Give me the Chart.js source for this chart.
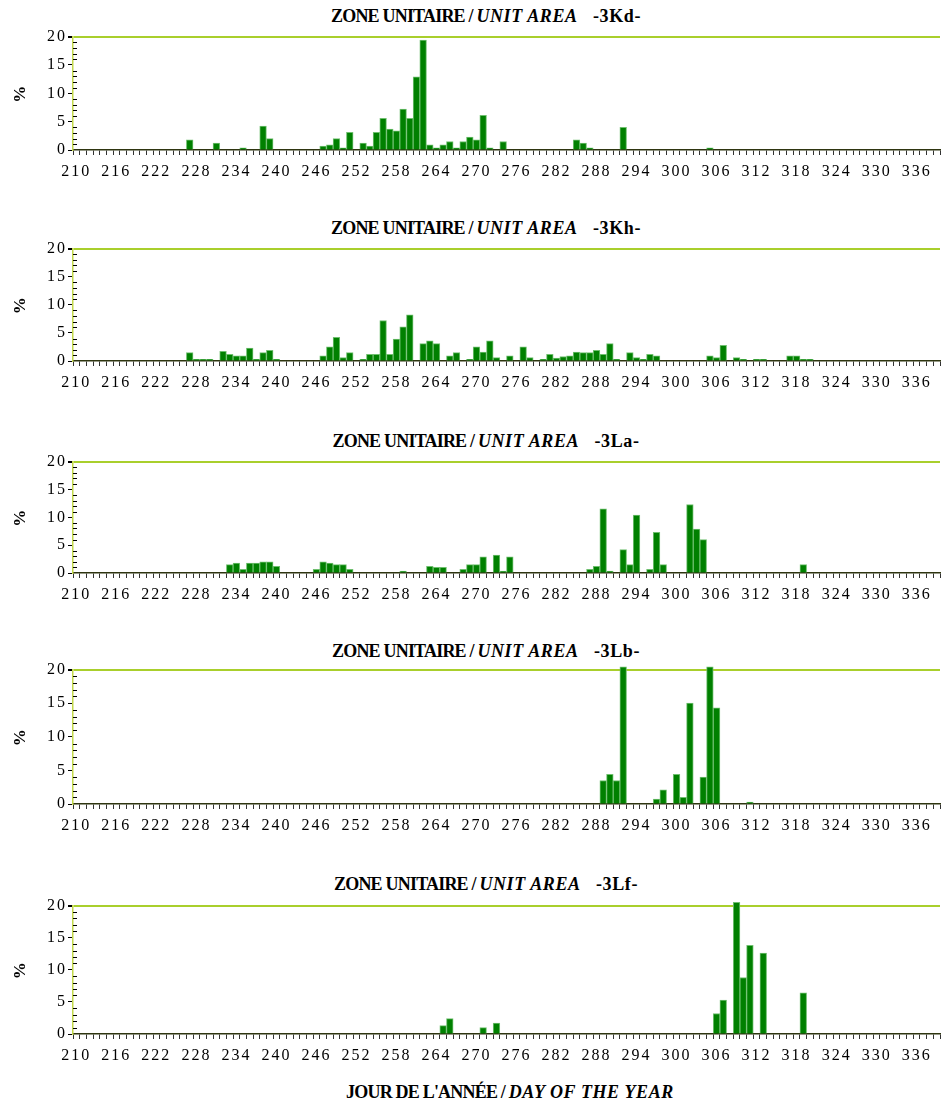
<!DOCTYPE html>
<html>
<head>
<meta charset="utf-8">
<script src="https://cdn.jsdelivr.net/npm/chart.js@4.4.0/dist/chart.umd.min.js"></script>
<style>
  body { margin: 0; background: #fff; }
  #page { position: relative; width: 944px; height: 1103px; font-family: 'Liberation Serif', serif; }
  canvas { position: absolute; left: 0; }
  .ttl { position: absolute; left: 486px; transform: translateX(-50%); white-space: nowrap;
         font-family: 'Liberation Serif', serif; font-weight: bold; font-size: 18px; line-height: 20px; color: #000; }
  .ttl .a { letter-spacing: -0.8px; }
  .ttl i { letter-spacing: 0.6px; }
  .ttl .c { letter-spacing: 0.6px; }
</style>
</head>
<body>
<div id="page"></div>
<script>
// day of the year, one category per day
const days = Array.from({ length: 130 }, (_, i) => 210 + i);
const dayLabels = days.map(String);
const yTicks = [0, 5, 10, 15, 20];

// non-zero days and their % for each unit area
const kdDays = [227, 231, 235, 238, 239, 247, 248, 249, 250, 251, 253, 254, 255, 256, 257, 258, 259, 260, 261, 262,
                263, 264, 265, 266, 267, 268, 269, 270, 271, 272, 274, 285, 286, 287, 292, 305];
const kdValues = [1.8, 1.2, 0.4, 4.2, 2.0, 0.7, 0.9, 2.0, 0.4, 3.1, 1.2, 0.7, 3.1, 5.6, 3.7, 3.4, 7.2, 5.6, 12.9, 19.4,
                  0.9, 0.4, 0.9, 1.5, 0.4, 1.5, 2.3, 1.8, 6.1, 0.4, 1.5, 1.8, 1.2, 0.4, 4.0, 0.4];

const khDays = [227, 228, 229, 230, 232, 233, 234, 235, 236, 237, 238, 239, 240, 247, 248, 249, 250, 251, 253, 254,
                255, 256, 257, 258, 259, 260, 262, 263, 264, 266, 267, 269, 270, 271, 272, 273, 275, 277, 278, 280,
                281, 282, 283, 284, 285, 286, 287, 288, 289, 290, 291, 293, 294, 295, 296, 297, 305, 306, 307, 309,
                310, 312, 313, 317, 318, 319, 320];
const khValues = [1.5, 0.3, 0.3, 0.3, 1.7, 1.2, 0.9, 0.9, 2.3, 0.3, 1.5, 1.9, 0.3, 0.9, 2.5, 4.2, 0.6, 1.5, 0.3, 1.2,
                  1.2, 7.2, 1.2, 3.9, 6.1, 8.2, 3.1, 3.6, 3.1, 0.9, 1.5, 0.3, 2.5, 1.6, 3.6, 0.6, 0.9, 2.5, 0.6, 0.3,
                  1.2, 0.5, 0.8, 0.9, 1.6, 1.5, 1.5, 1.9, 1.2, 3.1, 0.3, 1.5, 0.6, 0.3, 1.2, 0.9, 0.9, 0.6, 2.8, 0.6,
                  0.3, 0.3, 0.3, 0.9, 0.9, 0.3, 0.3];

const laDays = [233, 234, 235, 236, 237, 238, 239, 240, 246, 247, 248, 249, 250, 251, 259, 263, 264, 265, 268, 269,
                270, 271, 273, 274, 275, 287, 288, 289, 290, 292, 293, 294, 296, 297, 298, 302, 303, 304, 319];
const laValues = [1.5, 1.8, 0.65, 1.8, 1.8, 2.0, 2.0, 1.2, 0.65, 2.0, 1.8, 1.5, 1.5, 0.65, 0.35, 1.2, 1.0, 1.0, 0.65, 1.5,
                  1.5, 2.9, 3.2, 0.35, 2.9, 0.65, 1.2, 11.5, 0.35, 4.2, 1.5, 10.4, 0.65, 7.3, 1.5, 12.3, 7.9, 6.0, 1.5];

const lbDays = [289, 290, 291, 292, 297, 298, 300, 301, 302, 304, 305, 306, 311];
const lbValues = [3.5, 4.4, 3.5, 20.4, 0.75, 2.1, 4.4, 1.0, 15.0, 4.0, 20.4, 14.3, 0.3];

const lfDays = [265, 266, 271, 273, 306, 307, 309, 310, 311, 313, 319];
const lfValues = [1.3, 2.4, 1.0, 1.7, 3.2, 5.3, 20.5, 8.8, 13.8, 12.6, 6.4];

// layout of the five panels (plot top / bottom in page pixels)
const panels = [
  { code: '-3Kd-', titleY: 6,   top: 36,  bottom: 150,  days: kdDays, values: kdValues },
  { code: '-3Kh-', titleY: 218, top: 248, bottom: 361,  days: khDays, values: khValues },
  { code: '-3La-', titleY: 431, top: 461, bottom: 573,  days: laDays, values: laValues },
  { code: '-3Lb-', titleY: 641, top: 669, bottom: 804,  days: lbDays, values: lbValues },
  { code: '-3Lf-', titleY: 874, top: 905, bottom: 1034, days: lfDays, values: lfValues },
];

const PAD_TOP = 10;
const X_AXIS_H = 34;
const GREEN_LINE = '#a9cf2c';
const FONT = "'Liberation Serif', 'Times New Roman', serif";

function fullSeries(dayList, valueList) {
  return days.map(d => {
    const k = dayList.indexOf(d);
    return k < 0 ? null : valueList[k];
  });
}

// small inside ticks on the value axis, one per unit
const minorTicks = {
  id: 'minorTicks',
  beforeDraw(chart) {
    chart.ctx.letterSpacing = '2px';
  },
  afterDraw(chart) {
    const y = chart.scales.y;
    const ctx = chart.ctx;
    const x0 = chart.chartArea.left;
    ctx.save();
    ctx.strokeStyle = '#000';
    ctx.lineWidth = 1;
    for (let v = 1; v < 20; v++) {
      if (v % 5 === 0) continue;
      const py = Math.round(y.getPixelForValue(v)) + 0.5;
      ctx.beginPath();
      ctx.moveTo(x0, py);
      ctx.lineTo(x0 + 4, py);
      ctx.stroke();
    }
    ctx.restore();
  }
};

const page = document.getElementById('page');

panels.forEach(p => {
  const title = document.createElement('div');
  title.className = 'ttl';
  title.style.top = p.titleY + 'px';
  title.innerHTML = '<span class="a">ZONE UNITAIRE / </span><i>UNIT AREA</i><span class="c">&nbsp;&nbsp; ' + p.code + '</span>';
  page.appendChild(title);

  const canvas = document.createElement('canvas');
  const h = (p.bottom - p.top) + PAD_TOP + X_AXIS_H;
  canvas.width = 944;
  canvas.height = h;
  canvas.style.top = (p.top - PAD_TOP) + 'px';
  page.appendChild(canvas);

  new Chart(canvas, {
    type: 'bar',
    data: {
      labels: dayLabels,
      datasets: [{
        data: fullSeries(p.days, p.values),
        backgroundColor: '#008000',
        borderColor: '#6fbf6f',
        borderWidth: 1,
        borderSkipped: 'bottom',
        barPercentage: 1,
        categoryPercentage: 1,
        clip: false,
      }],
    },
    options: {
      responsive: false,
      animation: false,
      devicePixelRatio: 1,
      layout: { padding: { top: PAD_TOP, right: 4, left: 0, bottom: 0 } },
      plugins: { legend: { display: false }, tooltip: { enabled: false } },
      scales: {
        x: {
          type: 'category',
          offset: true,
          afterFit: (scale) => { scale.height = X_AXIS_H; },
          grid: {
            offset: true,
            drawOnChartArea: false,
            tickLength: 5,
            color: '#333',
            tickColor: '#333',
          },
          border: { display: true, color: '#2e3510', width: 1.5 },
          ticks: {
            autoSkip: false,
            maxRotation: 0,
            minRotation: 0,
            padding: 7,
            color: '#000',
            font: { family: FONT, size: 16 },
            callback: (v, i) => (i % 6 === 0 ? dayLabels[i] : ''),
          },
        },
        y: {
          min: 0,
          max: 20,
          afterFit: (scale) => { scale.width = 73; },
          afterBuildTicks: (scale) => { scale.ticks = yTicks.map(v => ({ value: v })); },
          grid: {
            drawTicks: true,
            tickLength: 5,
            tickColor: '#000',
            lineWidth: (ctx) => (ctx.tick && ctx.tick.value === 20 ? 2 : 1),
            color: (ctx) => (ctx.tick && ctx.tick.value === 20 ? GREEN_LINE : 'rgba(0,0,0,0)'),
          },
          border: { display: true, color: '#c2d84a', width: 1.5 },
          ticks: {
            padding: 1,
            color: '#000',
            font: { family: FONT, size: 16 },
          },
          title: {
            display: true,
            text: '%',
            color: '#000',
            padding: { top: 10, bottom: 0 },
            font: { family: FONT, size: 17, weight: 'bold' },
          },
        },
      },
    },
    plugins: [minorTicks],
  });
});

const xTitle = document.createElement('div');
xTitle.className = 'ttl';
xTitle.style.left = '510px';
xTitle.style.top = '1082px';
xTitle.innerHTML = '<span class="a">JOUR DE L\'ANNÉE / </span><i>DAY OF THE YEAR</i>';
page.appendChild(xTitle);
</script>
</body>
</html>
